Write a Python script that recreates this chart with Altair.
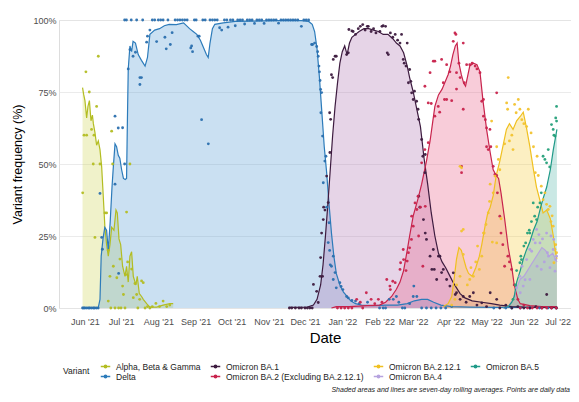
import altair as alt
import pandas as pd

START = pd.Timestamp("2021-06-01")

VARIANTS = ["Alpha, Beta & Gamma", "Delta", "Omicron BA.1",
            "Omicron BA.2 (Excluding BA.2.12.1)", "Omicron BA.2.12.1",
            "Omicron BA.4", "Omicron BA.5"]
LINE_COLORS = ["#b3bd22", "#2c7bba", "#3d1b3f", "#c8234c", "#f0c020", "#b6a3df", "#1f9a88"]
POINT_COLORS = ["#b3bd22", "#2a6fae", "#3d1b3f", "#c8234c", "#f2c330", "#b3a0e0", "#25a07a"]
FILL_COLORS = ["#d0d65a", "#5aa0d8", "#b27ab4", "#e8608a", "#f5cd40", "#b7a3e0", "#5bb8ac"]

# ---- seven-day rolling averages (days after 1 Jun 2021, percent) ----
alpha_days = [-2, -1, 0, 1.4, 2.5, 3.7, 5, 6.2, 7, 8.3, 9.7, 11.1, 12.5, 13.9, 15.2, 16.6, 18, 19.4, 20.8,
              22.2, 24.1, 25.8, 26.9, 28.3, 29.7, 31.3, 33.3, 34.6, 36, 37.4, 38.8, 40.2, 42.4, 43.5, 45.2,
              47.1, 48.5, 51.3, 54, 59.6, 65, 70.6, 73.4]
alpha_vals = [76.5, 74, 72, 66, 70, 72, 65, 67, 64, 61, 56.5, 58, 55, 49, 39, 28, 22, 18, 22,
              28, 27, 34, 33, 24, 22, 14.5, 11, 14.5, 9, 18, 19.5, 11, 8, 11, 5,
              4, 3, 1.5, 0.3, 0.3, 1, 1.5, 1.5]

delta_days = [-2, 11, 12.5, 13.5, 15, 16.5, 18, 19.4, 21, 22.5, 23.6, 25, 26.3, 27.7, 29, 30.5, 32, 33.5,
              34.6, 35.3, 36, 37.4, 38.8, 40, 42, 44.3, 47, 50, 52, 54, 58, 62, 66, 70, 76, 82, 87, 90,
              93, 96, 99, 101, 102.5, 104, 106, 108, 115, 125, 140, 160, 180, 186, 189, 191, 193, 195,
              197, 199, 201, 203, 205, 207, 209, 212, 215, 218, 221, 225, 230, 240, 250, 260, 268, 274,
              280, 285, 290, 296, 305, 320, 340, 360, 380, 392.5]
delta_vals = [0, 0, 3, 18, 24, 28, 27, 20, 30, 42, 49, 57, 56, 53, 52, 48, 45, 44.6,
              45, 65, 83, 91, 89, 92.6, 92, 88, 86, 84, 87, 95, 96.5, 97, 98, 98.5, 98.4, 99, 97, 96,
              95, 93, 90, 88, 87, 92, 97, 98.5, 99, 99.5, 99.6, 99.8, 99.8, 99.5, 98.5, 96, 90, 80,
              68, 56, 47, 36, 26, 18, 12, 8, 5.5, 4, 2.5, 1.5, 1, 0.8, 1, 1, 1.5, 2.5,
              3, 3, 2, 1, 0.5, 0.3, 0.2, 0.2, 0.2, 0.1]

ba1_days = [170, 185, 190, 193, 196, 198, 200, 202, 204, 206, 208, 210, 212, 214, 216, 218, 220, 222, 225,
            228, 232, 236, 240, 244, 248, 252, 256, 259, 262, 265, 268, 270, 273, 276, 279, 282, 285, 288,
            291, 294, 297, 300, 303, 306, 309, 312, 316, 322, 330, 338, 345, 355, 365, 380, 392.5]
ba1_vals = [0.2, 0.3, 1, 3, 8, 15, 25, 36, 48, 60, 70, 78, 85, 89, 91, 88, 92, 94, 95,
            96, 97, 97, 96.5, 96, 95, 95, 93.5, 92, 91, 88.6, 84, 80, 75, 69, 63, 52, 43, 33,
            25, 19, 16, 14, 11.5, 9, 7, 5, 3.5, 2.5, 2, 1.5, 1, 0.5, 0.3, 0.2, 0.2]

ba2_days = [205, 209, 220, 235, 245, 250, 255, 259, 262, 265, 268, 270, 273, 277, 280, 282, 284, 287, 289,
            291, 294, 297, 300, 302, 304, 306, 308, 309.5, 311, 313, 315, 316.5, 318, 320, 323, 326, 328.5,
            331, 334, 337, 339.5, 342, 344, 346, 349, 352, 355, 357, 360, 362, 370, 380, 392.5]
ba2_vals = [0, 0.5, 0.5, 0.8, 1, 2, 4, 6.5, 9, 13, 20, 25, 32, 38, 43, 47, 51, 58, 64,
            70, 74, 76, 79, 81, 84, 88, 91, 92, 85, 81, 78, 77, 80, 84, 85, 84.5, 82,
            72, 62, 54, 48, 46, 45, 40, 31, 21, 14, 8, 3, 1.5, 0.8, 0.5, 0.5]

ba2121_days = [298, 302, 305, 307, 309, 311, 313, 315, 317, 319, 322, 325, 328, 330, 333, 335, 337, 339.5,
               342, 345, 348, 350.5, 353, 356, 359, 362, 364.5, 367, 370, 373, 375.5, 378, 381, 384, 387,
               389.5, 391, 392.5]
ba2121_vals = [0.5, 1.5, 4, 10, 17, 21, 20, 17, 14, 12, 11, 14, 18, 22, 29, 33, 35, 39,
               46, 51, 57, 62, 64, 62, 65, 66.5, 68, 63, 56, 48, 42, 38, 33, 34, 31,
               25, 20, 17]

ba4_days = [348, 352, 356, 359, 362, 365, 368, 371, 374, 377, 380, 383, 386, 389, 392.5]
ba4_vals = [0, 0.5, 3, 7, 10, 11, 13, 15, 17, 19, 21, 20, 18, 19, 16]

ba5_days = [348, 352, 355, 357, 359, 362, 364.5, 367, 370, 373, 376, 379, 381, 384, 387, 389.5, 392.5]
ba5_vals = [0, 0.5, 2, 4, 9, 13, 17, 20, 23, 27, 30, 35, 38, 42, 48, 55, 62]

# ---- daily data points (day, percent) ----
alpha_pts = [(-1.9, 40), (-0.8, 60), (0.8, 82), (1.4, 60), (3.6, 75), (5.5, 62), (6.9, 50), (7.5, 60),
             (8.3, 24.5), (9.7, 70), (11.1, 87.4), (12.5, 50), (16.6, 33), (18, 33), (19.4, 20), (19.4, 2.4),
             (20.8, 11), (21.5, 0), (22.2, 61.4), (23, 50), (23.6, 14.5), (25, 0), (26.5, 10.5), (28, 0),
             (29.1, 17), (30, 0), (31.3, 7.6), (32, 4.7), (33.3, 0), (34, 11.6), (34.6, 33.3), (35.5, 16),
             (37.4, 50), (38.8, 13.5), (40.2, 3.6), (41.6, 8.5), (43, 4.7), (44, 0), (45.5, 3), (47.1, 9.4),
             (48.5, 8.8), (50, 0), (52, 0.5), (54, 0), (56, 0.5), (59, 1.6), (62, 0.5), (65, 2.4),
             (68, 0.5), (70.6, 1)]

delta_pts = [(-2, 0), (-1, 0), (0, 0), (1.5, 0), (3, 0), (4, 0), (5.5, 0), (7, 0), (8, 0), (9.5, 0), (11, 0),
             (12.5, 39.8), (13.9, 24.5), (14.5, 20.4), (25, 66.6), (25, 43), (27.7, 62.5), (28, 12),
             (31.3, 62.6), (33, 50), (33, 100), (34.5, 100), (36, 83), (37.4, 89.7), (38.5, 100), (40, 87.4),
             (42, 88.8), (43, 100), (45.7, 77.6), (45.7, 80), (47, 80), (48, 100), (51.3, 92.3), (52, 94.4),
             (54, 96.5), (56, 100), (58, 100), (59.6, 92.5), (61, 100), (63, 100), (65, 100), (66.5, 94),
             (67.6, 90), (69, 100), (71, 91.5), (72.5, 95.6), (75, 100), (77, 100), (79, 100), (81, 100),
             (83, 100), (85, 100), (88, 90.3), (88.7, 91), (89.5, 89), (91, 100), (92.5, 100), (94, 94.4),
             (95, 94.4), (97, 65.4), (98, 100), (100, 100), (102.6, 57), (104, 100), (106, 100), (108, 100),
             (110, 100), (112, 97.3), (113.7, 96.5), (116, 100), (118, 100), (119, 97.5), (121, 100),
             (123, 100), (125, 98), (127, 100), (129, 100), (131, 100), (132.8, 98.6), (135, 100), (137, 100),
             (139, 100), (141, 98.8), (143, 100), (145, 100), (147, 100), (149, 98.8), (151, 100), (153, 100),
             (155, 100), (157, 100), (159, 100), (161, 98.9), (163, 100), (165, 100), (167, 100), (169, 100),
             (171, 100), (173, 100), (175, 100), (177, 100), (180, 97.8), (182, 100), (184, 100), (186, 100),
             (188.5, 91.5), (189.3, 91.5), (191, 92), (192.7, 90.8), (193.5, 89), (194, 87.4), (194.6, 84),
             (195, 82), (195.5, 79), (196, 75.9), (196.8, 74.8), (196.2, 67.8), (197.6, 59.7), (200.4, 52.7),
             (199.5, 51), (198.2, 43.5), (201, 35), (202.3, 22.7), (203, 29.6), (203.5, 20), (204, 15),
             (205, 14.5), (206.5, 18), (206.5, 9.9), (208, 12.3), (209, 7), (212, 8.8), (213, 7.5),
             (214.5, 6.4), (217.6, 4), (219, 3.5), (222, 2.6), (225, 2.4), (228, 1.5), (235, 2), (245, 0),
             (248, 0), (250, 0), (253, 3), (256.4, 3), (259, 4), (261, 2), (264, 0), (266, 0), (270, 1.5),
             (273, 4), (273.5, 7.6), (276, 4), (280, 0), (284, 0), (288, 0), (292, 0), (296, 0), (300, 0),
             (305, 0.5), (340, 0), (350, 0), (355, 0), (362, 0), (370, 0), (378, 0), (385, 0), (392, 0)]

ba1_pts = [(170, 0), (172, 0), (175, 0), (178, 0), (180, 0), (183, 0), (185, 0), (187, 0), (189, 0),
           (190, 8.2), (192.7, 5.8), (194, 1.9), (195.5, 11), (196, 17.5), (196.8, 26), (197.6, 11),
           (198.2, 30.7), (198.5, 35), (199.6, 34), (201, 45.8), (202.3, 36.6), (203.5, 67.8), (203.7, 54),
           (204.3, 65.5), (205, 81), (206, 80), (206.5, 86.3), (208, 87.4), (209, 87.4), (217.6, 88),
           (219, 88.6), (219.5, 96.7), (222, 96.2), (223, 96), (225, 95), (227.3, 97), (229, 97.8),
           (231, 98.4), (233, 96.5), (234.8, 97.8), (235.6, 97.8), (238, 96), (240, 97), (242, 95.5),
           (245.3, 96), (247, 97.8), (248, 98), (250, 97.8), (251.4, 88.6), (252.3, 88), (254, 95.5),
           (256, 94), (258, 95), (260, 93), (262, 92), (263.3, 95), (264.7, 86.3), (265.5, 85), (267, 84),
           (268, 92), (269, 78.2), (270, 82.8), (271, 78.7), (271.7, 74.7), (273, 72.4), (274, 75.3),
           (275.8, 71.8), (277, 69), (277.5, 65.5), (277.5, 38.8), (278.5, 35), (280, 58.5), (281, 52.7),
           (281.5, 30.7), (282.7, 47), (283, 53.3), (283, 26), (284, 23.8), (287, 18), (288.5, 13.4),
           (289.7, 20.3), (290.5, 13.4), (292.5, 9.9), (294, 18), (295.2, 18), (296.6, 12.3), (298, 13.4),
           (300.8, 9.9), (303.5, 7.6), (306.3, 12.2), (308, 4.7), (309, 5.3), (312, 3), (314.6, 4),
           (317, 2), (320, 4), (323, 5.3), (326, 1), (330, 1.8), (334, 0.5), (337, 5.3), (342.4, 3),
           (345, 0), (350, 1), (355, 0), (360, 0.5), (365, 0), (370, 0), (375, 0.5), (380, 0), (384, 4.7),
           (388, 0), (392, 0)]

ba2_pts = [(210, 0), (213, 0), (216, 0), (219, 0), (222, 0), (226, 3), (229, 2), (231, 0), (234, 5.3),
           (238, 3), (241, 1.5), (244, 3), (247, 2), (251, 9.9), (253.6, 7.6), (254, 6.4), (256, 9.3),
           (258, 8.8), (262, 13.4), (262.5, 15.7), (264.7, 20.3), (265, 16.8), (267, 13), (268, 16.3),
           (269, 19.2), (270, 20.9), (271.5, 23.8), (271.7, 31.9), (273, 28.4), (274.5, 36.5), (276, 34.2),
           (277, 38.8), (277.5, 25), (279, 35), (281, 14.5), (280, 50.4), (282.7, 55), (282.7, 77),
           (283, 35.3), (285.5, 57.4), (285.5, 71.2), (287, 81.7), (288, 71), (289.7, 85.7), (291, 85.7),
           (291, 66.6), (293.8, 70), (295, 68), (296.6, 86.3), (298, 78.2), (299, 72.4), (300.8, 84.5),
           (300.8, 72.4), (303.5, 82), (305, 72), (306.3, 92.6), (307.7, 95.5), (308.5, 95), (309, 81.7),
           (309, 76), (311, 85), (312, 80), (313.2, 47), (313.2, 49.2), (314.6, 92), (314.6, 69),
           (315.5, 78.2), (317.4, 84.5), (320, 84.5), (322, 85), (324.5, 84), (326, 83), (328.5, 81.7),
           (330, 71.8), (331.4, 72.4), (331.4, 66.6), (333, 65.4), (334, 62.5), (334, 56), (335.4, 55),
           (336.8, 62), (337.5, 56), (339.5, 49.2), (341, 46.4), (342.4, 74.7), (342.4, 46), (343, 40),
           (345, 31.9), (346, 26), (347.5, 22), (349, 14.5), (351.7, 18), (353, 16), (354.8, 13.4),
           (357, 8), (360, 3), (362, 0), (365, 1), (368, 0), (372, 0), (376, 0), (380, 0), (384, 0),
           (388, 0), (392, 0)]

ba2121_pts = [(305, 1), (307.7, 3), (309, 8), (311.9, 11), (311.9, 49.2), (313.2, 48.7), (313.2, 26.7),
              (314.6, 18.6), (314.6, 27.3), (318, 8), (320, 9.9), (321, 14), (323, 11), (325, 16),
              (326.5, 21.5), (328, 13.4), (330, 18), (331.4, 26), (332, 26), (333.5, 29), (335.4, 33),
              (336.5, 37), (337, 43), (338.2, 64.9), (338.8, 22.9), (339.5, 40), (341, 45.8), (342.4, 56),
              (342.4, 22.6), (343.8, 51.6), (345, 48), (346, 31), (349, 57), (350.7, 71.2), (351.5, 69),
              (352, 80), (353, 58), (355, 60), (356, 55), (357.3, 70.7), (358.6, 67.8), (360.4, 72.4),
              (361.7, 69), (363.3, 65.4), (365, 64), (367.3, 63), (368.7, 69), (371, 60.8), (373, 56),
              (374.5, 47), (376, 52.7), (377, 46), (379.5, 42.3), (381, 37.6), (382.5, 40), (383.9, 36),
              (385.3, 34.2), (386.7, 35.3), (387.5, 30), (388.5, 32), (389.4, 28.4), (390, 15.7),
              (390.9, 20.3), (391.5, 22), (392.2, 19.2)]

ba4_pts = [(359, 7), (361.7, 11), (362, 5.3), (363.5, 14.5), (364.5, 7.6), (366, 9.8), (367.3, 16.8),
           (370, 20.3), (370, 9.9), (371.5, 19.7), (372.8, 23.8), (374.5, 22.6), (375.6, 27.3), (376, 14.5),
           (377.5, 25.5), (378.4, 22.6), (379.5, 13.4), (380.5, 24), (382, 16), (383.9, 26), (384.6, 19.2),
           (385.5, 18), (386.7, 14), (387.5, 25), (389.4, 20.3), (389.8, 23.8), (390.9, 12.8),
           (391.5, 16.8), (392.2, 18)]

ba5_pts = [(356, 3), (358, 8), (359, 13), (361.7, 15.7), (362.5, 18), (363, 16.8), (365, 21.5),
           (366.5, 22.6), (368, 26), (369.5, 27), (370, 26), (371.3, 30), (372.8, 36.5), (374, 31.9),
           (375.6, 30.7), (376.5, 35), (378.4, 36.5), (379.5, 40), (381, 52.7), (382.5, 51.6),
           (383.9, 50.4), (385.3, 55), (386.5, 49), (388, 63.7), (389.4, 62), (390, 60), (390.9, 59.7),
           (391.5, 66), (392.2, 70), (392.2, 64.9)]

MONTH_TICKS = [(2021, 6), (2021, 7), (2021, 8), (2021, 9), (2021, 10), (2021, 11), (2021, 12),
               (2022, 1), (2022, 2), (2022, 3), (2022, 4), (2022, 5), (2022, 6), (2022, 7)]
CAPTION = "Shaded areas and lines are seven-day rolling averages. Points are daily data"

# ---- build tables ----
def to_dates(days):
    return [(START + pd.to_timedelta(d, unit="D")).strftime("%Y-%m-%dT%H:%M:%S") for d in days]

line_sets = [(alpha_days, alpha_vals), (delta_days, delta_vals), (ba1_days, ba1_vals),
             (ba2_days, ba2_vals), (ba2121_days, ba2121_vals), (ba4_days, ba4_vals), (ba5_days, ba5_vals)]
point_sets = [alpha_pts, delta_pts, ba1_pts, ba2_pts, ba2121_pts, ba4_pts, ba5_pts]

line_rows = []
for name, (ds, vs) in zip(VARIANTS, line_sets):
    for d, v in zip(to_dates(ds), vs):
        line_rows.append({"variant": name, "date": d, "value": v})
lines_df = pd.DataFrame(line_rows)

pt_rows = []
for name, pts in zip(VARIANTS, point_sets):
    ds = to_dates([p[0] for p in pts])
    for d, p in zip(ds, pts):
        pt_rows.append({"variant": name, "date": d, "value": p[1]})
pts_df = pd.DataFrame(pt_rows)

LEGEND_ORDER = [VARIANTS[i] for i in (0, 2, 4, 6, 1, 3, 5)]
line_range = [LINE_COLORS[VARIANTS.index(v)] for v in LEGEND_ORDER]

FONT = "Liberation Sans"

x_enc = alt.X(
    "date:T",
    title="Date",
    scale=alt.Scale(domain=[alt.DateTime(year=2021, month=5, date=10, hours=10),
                            alt.DateTime(year=2022, month=7, date=10, hours=5)]),
    axis=alt.Axis(
        values=[alt.DateTime(year=y, month=m, date=1) for y, m in MONTH_TICKS],
        format="%b '%y", grid=False, ticks=False, domain=False,
        labelFontSize=9, labelColor="#4d4d4d", labelPadding=9, labelFont=FONT,
        labelFlush=12, labelFlushOffset=10.5,
        titleFontSize=15, titleFontWeight="normal", titleColor="#000000", titleFont=FONT,
        titlePadding=4, titleX=266,
    ),
)
y_enc = alt.Y(
    "value:Q",
    stack=None,
    title="Variant frequency (%)",
    scale=alt.Scale(domain=[0, 100], nice=False, zero=False),
    axis=alt.Axis(
        values=[0, 25, 50, 75, 100], labelExpr="datum.value + '%'",
        grid=True, gridColor="#e6e6e6", gridWidth=0.8, ticks=False, domain=False,
        labelFontSize=9, labelColor="#4d4d4d", labelPadding=3, labelFont=FONT,
        titleFontSize=12.5, titleFontWeight="normal", titleColor="#000000", titleFont=FONT,
        titlePadding=8,
    ),
)

base_lines = alt.Chart(lines_df)
base_pts = alt.Chart(pts_df)

area_layers = [
    base_lines.transform_filter(alt.datum.variant == name)
    .mark_area(opacity=0.32, color=FILL_COLORS[i])
    .encode(x=x_enc, y=y_enc)
    for i, name in enumerate(VARIANTS)
]

SYMBOL = "M-1,0L1,0M-0.24,0A0.24,0.24,0,1,1,0.24,0A0.24,0.24,0,1,1,-0.24,0Z"

lines = base_lines.mark_line(strokeWidth=1.2).encode(
    x=x_enc, y=y_enc,
    stroke=alt.Stroke(
        "variant:N",
        scale=alt.Scale(domain=LEGEND_ORDER, range=line_range),
        legend=alt.Legend(
            title="Variant", orient="none", legendX=4, legendY=341,
            direction="horizontal", columns=4, titleOrient="left",
            titleFontSize=8.5, titleFontWeight="normal", titleColor="#222222", titleFont=FONT,
            titlePadding=10,
            labelFontSize=8.5, labelColor="#222222", labelFont=FONT, labelLimit=300,
            symbolType=SYMBOL, symbolSize=90, symbolStrokeWidth=1.5,
            columnPadding=6, rowPadding=0, labelOffset=5,
        ),
    ),
    detail="variant:N",
)

point_layers = [
    base_pts.transform_filter(alt.datum.variant == name)
    .mark_circle(size=8, opacity=0.95, color=POINT_COLORS[i])
    .encode(x=x_enc, y=y_enc)
    for i, name in enumerate(VARIANTS)
]

caption = alt.Chart(pd.DataFrame({"t": [CAPTION]})).mark_text(
    align="right", baseline="middle", fontSize=7, fontStyle="italic", font=FONT, color="#222222"
).encode(text="t:N", x=alt.value(511), y=alt.value(370))

chart = alt.layer(*area_layers, lines, *point_layers, caption).properties(
    width=512, height=288,
    autosize=alt.AutoSizeParams(type="none"),
    padding={"left": 51, "top": 12, "right": 0, "bottom": 86},
).configure_view(stroke=None).configure(background="white")

chart.save("out.html", embed_options={"renderer": "svg", "actions": False})
